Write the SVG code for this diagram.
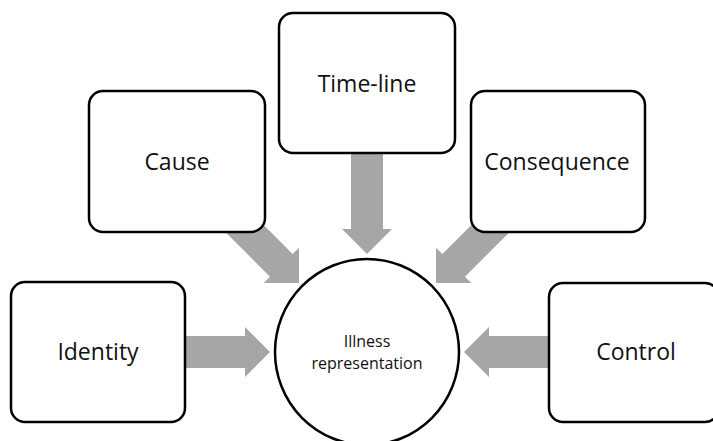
<svg xmlns="http://www.w3.org/2000/svg" width="713" height="441" viewBox="0 0 713 441">
  <style>
    .box { fill: #ffffff; stroke: #000000; stroke-width: 2.5; }
    .hub { fill: #ffffff; stroke: #000000; stroke-width: 2.5; }
    .lbl { font-family: "Open Sans", "Noto Sans", sans-serif; font-size: 23px; fill: #111111; text-anchor: middle; }
    .hubtxt { font-family: "Open Sans", "Noto Sans", sans-serif; font-size: 16px; fill: #111111; text-anchor: middle; }
    .arrow { fill: #a6a6a6; stroke: none; }
  </style>
  <rect width="713" height="441" fill="#ffffff"/>

  <!-- block arrows, tip at local origin, pointing along +x -->
  <g id="connectors">
    <polygon class="arrow" transform="translate(270,352)" points="-85,-16 -25,-16 -25,-25 0,0 -25,25 -25,16 -85,16"/>
    <polygon class="arrow" transform="translate(464,352) rotate(180)" points="-85,-16 -25,-16 -25,-25 0,0 -25,25 -25,16 -85,16"/>
    <polygon class="arrow" transform="translate(367,254) rotate(90)" points="-104,-16 -25,-16 -25,-25 0,0 -25,25 -25,16 -104,16"/>
    <polygon class="arrow" transform="translate(299,283) rotate(45)" points="-95,-16 -25,-16 -25,-25 0,0 -25,25 -25,16 -95,16"/>
    <polygon class="arrow" transform="translate(436,283) rotate(135)" points="-95,-16 -25,-16 -25,-25 0,0 -25,25 -25,16 -95,16"/>
  </g>

  <g id="timeline">
    <rect class="box" x="279" y="13" width="176" height="140" rx="14"/>
    <text class="lbl" x="367" y="92">Time-line</text>
  </g>
  <g id="cause">
    <rect class="box" x="89" y="91" width="176" height="141" rx="14"/>
    <text class="lbl" x="177" y="170">Cause</text>
  </g>
  <g id="consequence">
    <rect class="box" x="471" y="91" width="174" height="141" rx="14"/>
    <text class="lbl" x="557" y="170">Consequence</text>
  </g>
  <g id="identity">
    <rect class="box" x="11" y="282" width="174" height="140" rx="14"/>
    <text class="lbl" x="98" y="360">Identity</text>
  </g>
  <g id="control">
    <rect class="box" x="549" y="283" width="170" height="139" rx="14"/>
    <text class="lbl" x="636" y="360">Control</text>
  </g>
  <g id="illness-representation">
    <ellipse class="hub" cx="367" cy="352" rx="92" ry="93"/>
    <text class="hubtxt" x="367" y="347">Illness</text>
    <text class="hubtxt" x="367" y="369">representation</text>
  </g>
</svg>
